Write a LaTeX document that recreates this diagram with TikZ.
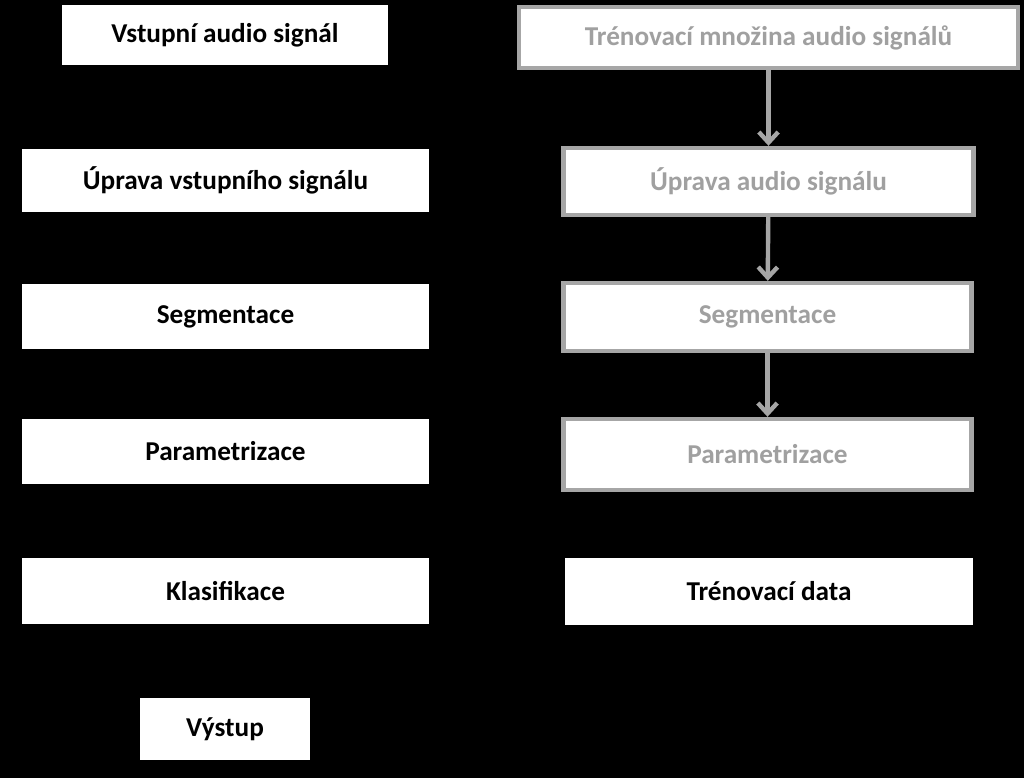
\documentclass[tikz,border=0pt]{standalone}
\usepackage{fontspec}
\setmainfont{Carlito}
\usetikzlibrary{arrows.meta}
\definecolor{frame}{HTML}{A6A6A6}
\definecolor{ghost}{HTML}{A0A0A0}

\begin{document}
\begin{tikzpicture}[x=0.02cm,y=-0.02cm]
\tikzset{>={Straight Barb[length=6pt,width=11pt]}}

\tikzstyle{block} = [rectangle, fill=white, text centered, inner sep=0pt,
                     font=\fontsize{15.5}{18}\selectfont\bfseries]
\tikzstyle{train} = [block, draw=frame, line width=2.5pt, text=ghost]
\tikzstyle{flow}  = [->, line width=2.5pt, draw=frame]

\fill[black] (0,0) rectangle (1024,778);

% detection chain
\node[block,minimum width=6.52cm,minimum height=1.2cm]  (IN)  at (225,35)    {Vstupní audio signál};
\node[block,minimum width=8.14cm,minimum height=1.26cm] (PRE) at (225.5,180.5) {Úprava vstupního signálu};
\node[block,minimum width=8.14cm,minimum height=1.3cm]  (SEG) at (225.5,316.5) {Segmentace};
\node[block,minimum width=8.14cm,minimum height=1.3cm]  (PAR) at (225.5,451.5) {Parametrizace};
\node[block,minimum width=8.14cm,minimum height=1.32cm] (CLS) at (225.5,591)   {Klasifikace};
\node[block,minimum width=3.4cm,minimum height=1.24cm]  (OUT) at (225,729)     {Výstup};

% training chain
\node[train,minimum width=9.98cm,minimum height=1.22cm] (TSET) at (768.5,37.5) {Trénovací množina audio signálů};
\node[train,minimum width=8.2cm,minimum height=1.34cm]  (TPRE) at (768.5,181.5) {Úprava audio signálu};
\node[train,minimum width=8.16cm,minimum height=1.36cm] (TSEG) at (767.5,317)   {Segmentace};
\node[train,minimum width=8.16cm,minimum height=1.42cm] (TPAR) at (767.5,454.5) {Parametrizace};
\node[block,minimum width=8.16cm,minimum height=1.34cm] (TDAT) at (769,591.5)   {Trénovací data};

\draw[flow] (TSET) -- (TPRE);
\draw[flow] (TPRE) -- (TSEG);
\draw[flow] (TSEG) -- (TPAR);

% black connectors (on black ground)
\draw[->,line width=2.5pt,black] (IN)  -- (PRE);
\draw[->,line width=2.5pt,black] (PRE) -- (SEG);
\draw[->,line width=2.5pt,black] (SEG) -- (PAR);
\draw[->,line width=2.5pt,black] (PAR) -- (CLS);
\draw[->,line width=2.5pt,black] (CLS) -- (OUT);
\draw[->,line width=2.5pt,black] (TPAR) -- (TDAT);
\draw[->,line width=2.5pt,black] (TDAT) -- (CLS);

\end{tikzpicture}
\end{document}
